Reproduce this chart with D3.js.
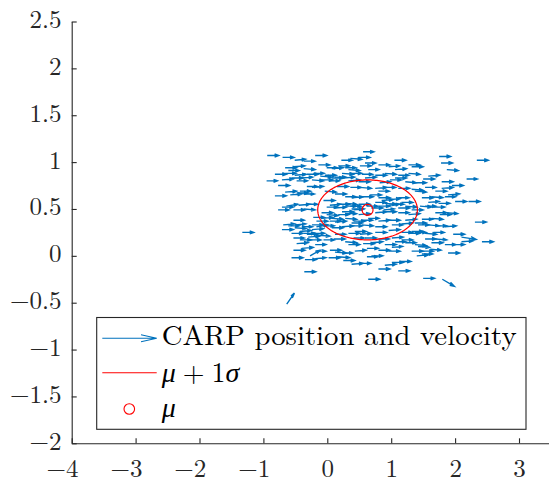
<!DOCTYPE html>
<html><head><meta charset="utf-8">
<script src="https://cdn.jsdelivr.net/npm/d3@7"></script>
<style>body{margin:0;background:#fff}svg{display:block}</style>
</head><body>
<svg id="chart" width="549" height="484"></svg>
<script>
// ---- data ----
const posX = [
-0.94,-0.70,-0.51,-0.37,-0.19,0.22,0.36,0.49,0.56,
-0.66,-0.53,-0.61,-0.37,-0.14,-0.01,0.07,0.17,0.28,0.33,0.51,0.59,
-0.82,-0.66,-0.51,-0.32,-0.22,-0.11,-0.04,0.12,0.25,0.36,0.54,
-0.95,-0.71,-0.56,-0.48,-0.24,-0.09,0.02,0.33,0.49,
-0.77,-0.32,-0.24,0.15,0.36,0.51,
-0.66,-0.48,-0.43,-0.82,-0.58,-0.37,-0.04,0.12,0.28,0.38,0.54,
-0.06,0.04,0.17,0.28,0.36,0.49,-0.45,-0.32,-0.71,-0.64,-0.77,-0.53,-0.37,-0.01,0.12,0.38,0.62,
-0.09,-0.01,0.17,0.28,0.49,
-0.53,-0.22,-0.09,0.04,0.28,0.41,0.54,0.12,
-0.69,-0.61,-0.71,-0.51,-0.40,-0.24,-0.17,-0.06,0.07,0.23,0.38,0.54,
-0.56,-0.43,-0.32,-0.22,-0.14,0.12,0.33,0.51,-1.33,
-0.53,-0.43,-0.30,-0.06,0.10,0.28,0.41,0.56,-0.48,-0.19,0.33,
-0.53,-0.40,-0.19,0.04,0.12,0.23,0.43,0.62,
-0.56,-0.27,-0.35,-0.19,0.02,0.17,0.62,0.25,0.38,0.51,
-0.36,0.64,-0.635,
1.75,2.34,1.05,
0.80,0.96,1.27,1.78,1.87,0.64,1.06,1.32,
0.75,0.90,1.11,1.58,1.50,1.79,2.18,0.59,1.06,1.22,1.37,
0.75,0.90,1.11,1.32,1.53,1.79,1.95,0.80,1.37,1.69,
0.80,0.96,1.11,1.48,1.63,1.84,1.89,2.00,2.21,0.75,0.90,1.16,1.58,1.74,
0.80,0.96,1.11,1.45,1.53,1.66,
0.75,0.90,1.11,1.27,1.69,1.87,1.76,
0.64,0.80,0.96,1.48,1.63,2.31,
0.75,1.01,1.16,1.37,1.58,1.69,1.84,
0.75,0.96,1.16,1.32,1.53,1.66,1.97,2.10,
0.59,0.80,1.01,1.16,1.53,1.69,2.42,
0.69,0.90,1.22,1.37,1.63,1.84,2.10,1.97,
0.80,1.01,1.32,1.48,1.61,1.89,0.96,
0.69,1.40,1.48,
1.01,1.14,0.90,
0.80,1.11,
1.50,1.80,
0.85,1.03,1.22,0.69,0.88,1.32,0.67,0.82,0.98,1.27,1.42,1.22,1.37,1.06,1.42,1.27,
0.28,0.41,0.23,0.07,0.38,-0.24,-0.37,-0.27,0.23,0.07,-0.40,0.43,-0.17,-0.505
];
const posY = [
1.07,1.05,1.02,1.01,1.07,1.02,1.04,1.05,1.11,
0.94,0.95,0.91,0.93,0.97,0.94,0.93,0.96,0.94,0.92,0.96,0.99,
0.87,0.88,0.86,0.87,0.88,0.85,0.86,0.84,0.83,0.88,0.87,
0.80,0.81,0.83,0.80,0.81,0.81,0.80,0.80,0.79,
0.75,0.74,0.73,0.74,0.73,0.73,
0.68,0.67,0.69,0.64,0.65,0.66,0.69,0.66,0.63,0.62,0.63,
0.59,0.54,0.55,0.56,0.53,0.55,0.54,0.55,0.52,0.53,0.49,0.49,0.50,0.52,0.51,0.50,0.53,
0.46,0.44,0.44,0.45,0.44,
0.38,0.41,0.40,0.37,0.40,0.37,0.38,0.36,
0.33,0.32,0.28,0.30,0.31,0.33,0.31,0.32,0.30,0.31,0.32,0.33,
0.24,0.26,0.23,0.24,0.22,0.23,0.24,0.23,0.25,
0.19,0.17,0.20,0.17,0.18,0.15,0.19,0.13,0.13,0.12,0.12,
0.06,0.08,0.05,0.06,0.04,0.03,0.05,0.08,
-0.02,0.00,-0.04,-0.03,-0.02,-0.01,-0.01,-0.05,-0.09,-0.08,
-0.17,-0.25,-0.515,
1.06,1.02,1.02,
0.97,0.95,0.97,0.99,0.92,0.92,0.92,0.95,
0.86,0.88,0.86,0.85,0.82,0.79,0.82,0.83,0.83,0.79,0.78,
0.72,0.73,0.72,0.71,0.73,0.72,0.75,0.69,0.69,0.69,
0.62,0.60,0.62,0.62,0.63,0.63,0.65,0.58,0.58,0.57,0.56,0.57,0.57,0.56,
0.53,0.54,0.51,0.53,0.53,0.52,
0.46,0.47,0.46,0.44,0.46,0.46,0.44,
0.40,0.37,0.38,0.39,0.40,0.36,
0.31,0.33,0.34,0.35,0.33,0.32,0.31,
0.25,0.27,0.25,0.26,0.24,0.25,0.23,0.20,
0.19,0.18,0.19,0.17,0.18,0.18,0.15,
0.14,0.12,0.14,0.12,0.14,0.12,0.15,0.12,
0.06,0.09,0.05,0.05,0.07,0.03,0.05,
0.00,0.00,0.02,
-0.07,-0.06,-0.10,
-0.14,-0.16,
-0.24,-0.25,
0.59,0.55,0.53,0.51,0.49,0.49,0.65,0.78,0.81,0.88,0.33,0.38,0.25,0.15,0.10,0.24,
0.53,0.49,0.47,0.40,0.35,0.28,0.24,0.17,0.88,0.83,0.83,0.26,0.37,0.33
];
const velU = [
.18,.18,.17,.18,.18,.17,.18,.18,.17,
.18,.18,.17,.18,.18,.17,.18,.18,.17,.18,.18,.17,
.18,.17,.18,.18,.17,.18,.18,.17,.18,.18,.17,
.17,.18,.18,.17,.18,.18,.17,.18,.18,
.18,.17,.18,.18,.17,.18,
.18,.18,.17,.18,.18,.17,.18,.18,.17,.18,.18,
.18,.17,.18,.18,.17,.18,.18,.17,.18,.18,.17,.18,.18,.17,.18,.18,.17,
.18,.18,.17,.18,.18,
.17,.18,.18,.17,.18,.18,.17,.18,
.18,.17,.18,.18,.17,.18,.18,.17,.18,.18,.17,.18,
.18,.18,.17,.18,.18,.17,.18,.18,.18,
.17,.18,.18,.17,.18,.18,.17,.18,.18,.17,.18,
.18,.18,.17,.18,.18,.17,.18,.18,
.18,.16,.18,.17,.18,.18,.17,.18,.18,.17,
.18,.18,.12,
.18,.18,.18,
.18,.17,.18,.18,.18,.17,.18,.18,
.18,.18,.17,.18,.18,.18,.17,.18,.18,.17,.18,
.18,.17,.18,.18,.17,.18,.18,.17,.18,.18,
.18,.18,.17,.18,.18,.17,.18,.18,.18,.17,.18,.18,.17,.18,
.18,.17,.18,.18,.17,.18,
.18,.18,.17,.18,.18,.17,.18,
.17,.18,.18,.17,.18,.18,
.18,.17,.18,.18,.17,.18,.18,
.18,.18,.17,.18,.18,.17,.18,.23,
.18,.17,.18,.18,.17,.18,.18,
.18,.18,.17,.18,.18,.17,.18,.18,
.18,.17,.18,.18,.17,.18,.18,
.18,.18,.17,
.18,.17,.18,
.18,.18,
.18,.19,
.18,.17,.18,.18,.17,.18,.18,.17,.18,.18,.17,.18,.18,.17,.18,.18,
.18,.17,.18,.18,.17,.18,.18,.17,.18,.18,.17,.18,.18,.17
];
const velV = [
.00,.00,.01,.00,.00,.00,-.01,.00,.00,
.00,.01,.00,-.01,.00,.00,.01,.00,.00,-.01,.00,.00,
.00,.00,.01,.00,.00,-.01,.00,.00,.01,.00,.00,
.00,.01,.00,.00,-.01,.00,.00,.01,.00,
.00,.00,.01,.00,.00,-.01,
.01,.00,.00,.00,.01,.00,-.01,.00,.00,.01,.00,
.00,.01,.00,-.01,.00,.00,.01,.00,.00,.02,.00,.00,-.01,.00,.01,.00,.00,
.00,-.01,.00,.00,.01,
.00,.00,.01,.00,-.01,.00,.00,.01,
.01,.00,.00,-.01,.00,.00,.02,.00,.00,.01,.00,-.01,
.00,.01,.00,.00,-.01,.00,.00,.01,.00,
.00,.00,.01,.00,.00,-.01,.00,.00,.01,.00,.00,
.00,.01,.00,.00,-.01,.00,.01,.00,
.00,.06,.00,.01,.00,-.01,.00,.00,.01,.00,
.00,.00,.117,
.00,.00,.00,
.00,.01,.00,.00,-.01,.00,.01,.00,
.00,-.01,.00,.01,.00,.00,.00,.01,.00,-.01,.00,
.01,.00,.00,-.01,.00,.01,.00,.00,-.01,.00,
.00,.01,.00,.00,-.01,.00,.01,.00,.00,.00,-.01,.00,.01,.00,
.00,.01,.00,-.01,.00,.00,
.01,.00,.00,.01,.00,-.01,.00,
.00,.01,.00,.00,-.01,.00,
.00,.00,.01,.00,-.01,.00,.01,
.00,.01,.00,.00,-.01,.00,.00,-.025,
.00,.00,.01,.00,.00,-.01,.00,
.01,.00,.00,-.01,.00,.00,.01,.00,
.00,.01,.00,.00,-.01,.00,.00,
.00,.01,.00,
.00,.00,.01,
.00,.00,
.00,-.075,
.01,.00,-.01,.00,.01,.00,.00,.01,.00,-.01,.00,.01,.00,.00,-.01,.00,
.00,.01,.00,-.01,.00,.01,.00,.00,-.01,.00,.01,.00,.00,.01
];
const meanX = [0.63];
const meanY = [0.49];
const sigmaR = [0.78, 0.32]; // 1-sigma semi-axes (x, y)
const xTicks = [-4,-3,-2,-1,0,1,2,3];
const yTicks = [-2,-1.5,-1,-0.5,0,0.5,1,1.5,2,2.5];
const legendLabels = ["CARP position and velocity", "μ + 1σ", "μ"];

// ---- drawing ----
const BLUE = "#0072BD", RED = "#FF0000", AX = "#262626";
const FONT = '"Latin Modern Roman"';
const svg = d3.select("#chart");
const x = d3.scaleLinear().domain([-4, 3.5]).range([71.7, 550.95]);
const y = d3.scaleLinear().domain([-2, 2.5]).range([443.3, 21.5]);
const fmt = d3.format("~g");

// quiver arrows (MATLAB style)
const alpha = 0.36, beta = 0.25;
const arrows = posX.map((px, i) => ({x: px, y: posY[i], u: velU[i], v: velV[i]}));
const gq = svg.append("g").attr("fill", "none").attr("stroke", BLUE).attr("stroke-width", 1.4);
gq.selectAll("path").data(arrows).join("path")
  .attr("d", d => {
    const ex = d.x + d.u, ey = d.y + d.v;
    const h1x = ex - alpha * (d.u + beta * d.v), h1y = ey - alpha * (d.v - beta * d.u);
    const h2x = ex - alpha * (d.u - beta * d.v), h2y = ey - alpha * (d.v + beta * d.u);
    return `M${x(d.x)},${y(d.y)}L${x(ex)},${y(ey)}M${x(h1x)},${y(h1y)}L${x(ex)},${y(ey)}L${x(h2x)},${y(h2y)}`;
  });

// 1-sigma ellipse
const ell = d3.range(0, 201).map(k => {
  const t = 2 * Math.PI * k / 200;
  return [meanX[0] + sigmaR[0] * Math.cos(t), meanY[0] + sigmaR[1] * Math.sin(t)];
});
svg.append("path").datum(ell)
  .attr("d", d3.line().x(d => x(d[0])).y(d => y(d[1])))
  .attr("fill", "none").attr("stroke", RED).attr("stroke-width", 1.2);

// mean marker
svg.selectAll("circle.mean").data(meanX).join("circle").attr("class", "mean")
  .attr("cx", (d) => x(d)).attr("cy", (d, i) => y(meanY[i])).attr("r", 5.5)
  .attr("fill", "none").attr("stroke", RED).attr("stroke-width", 1.2);

// axes
const gx = svg.append("g").attr("transform", `translate(0,${y(-2)})`)
  .call(d3.axisBottom(x).tickValues(xTicks).tickSizeInner(-5).tickSizeOuter(0).tickFormat(fmt));
const gy = svg.append("g").attr("transform", `translate(${x(-4)},0)`)
  .call(d3.axisLeft(y).tickValues(yTicks).tickSizeInner(-5).tickSizeOuter(0).tickFormat(fmt));
[gx, gy].forEach(g => {
  g.attr("font-family", null).attr("font-size", null);
  g.selectAll(".domain, .tick line").attr("stroke", AX).attr("stroke-width", 1.1);
  g.selectAll("text").attr("fill", AX).style("font-family", FONT).style("font-size", "25px");
});
gx.selectAll("text").attr("y", 34).attr("dy", null).attr("x", 6.3).attr("text-anchor", "end");
gy.selectAll("text").attr("x", -10.2).attr("dy", null).attr("y", 6).attr("text-anchor", "end");

// legend
const lg = svg.append("g");
lg.append("rect").attr("x", 96.7).attr("y", 317.5).attr("width", 429.3).attr("height", 111.8)
  .attr("fill", "#fff").attr("stroke", AX).attr("stroke-width", 1.1);
lg.append("path").attr("d", "M102.3,338.3H156.7M141,334.8L156.7,338.3L141,341.8")
  .attr("fill", "none").attr("stroke", BLUE).attr("stroke-width", 1.1);
lg.append("line").attr("x1", 102.3).attr("x2", 156.7).attr("y1", 372.7).attr("y2", 372.7)
  .attr("stroke", RED).attr("stroke-width", 1.1);
lg.append("circle").attr("cx", 129.3).attr("cy", 409).attr("r", 5.3)
  .attr("fill", "none").attr("stroke", RED).attr("stroke-width", 1.1);
const lt = lg.append("g").style("font-family", FONT).style("font-size", "28px").attr("fill", "#000");
lt.append("text").attr("x", 161.7).attr("y", 345).attr("textLength", 355)
  .attr("lengthAdjust", "spacingAndGlyphs").text(legendLabels[0]);
const t2 = lt.append("text").attr("x", 161.7).attr("y", 381.5);
const parts2 = legendLabels[1].split(" ");
t2.append("tspan").style("font-style", "italic").text(parts2[0]);
t2.append("tspan").attr("dx", 7).text(parts2[1]);
t2.append("tspan").attr("dx", 7).text(parts2[2].slice(0, 1));
t2.append("tspan").style("font-style", "italic").text(parts2[2].slice(1));
lt.append("text").attr("x", 161.7).attr("y", 416.5).style("font-style", "italic").text(legendLabels[2]);
</script>
</body></html>
